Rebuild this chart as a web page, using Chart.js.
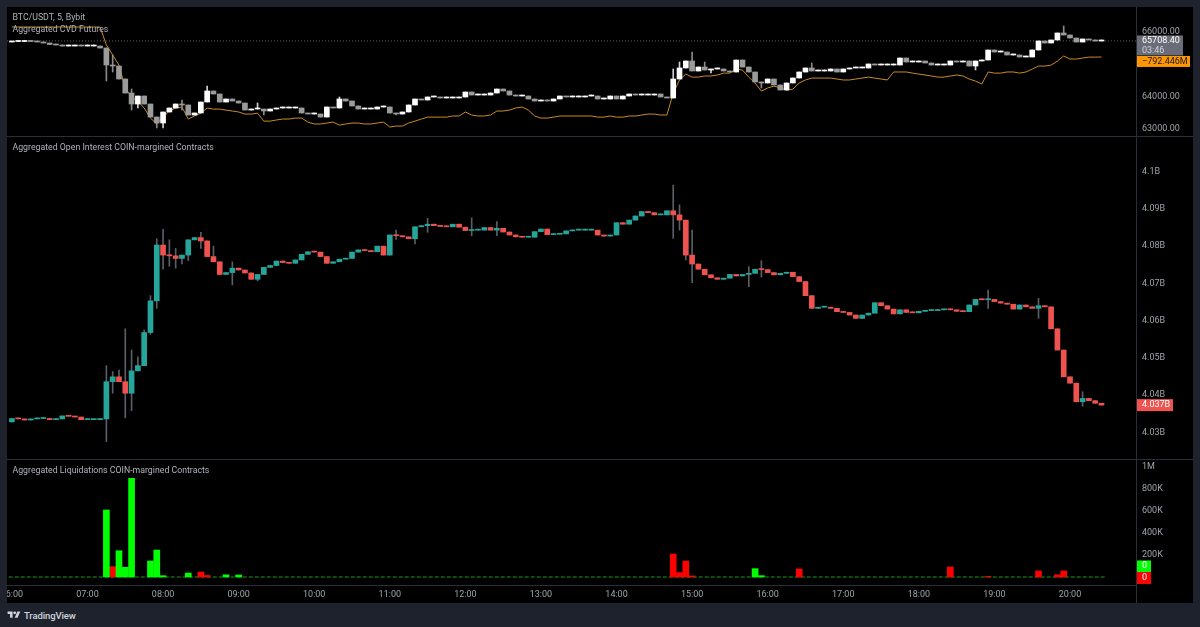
<!DOCTYPE html>
<html><head><meta charset="utf-8">
<script src="https://cdn.jsdelivr.net/npm/chart.js@4.4.1/dist/chart.umd.min.js"></script>
<style>
html,body{margin:0;padding:0;width:1200px;height:627px;overflow:hidden;background:#1e222d;font-family:Roboto,"Noto Sans",sans-serif;}
#frame{position:absolute;left:7px;top:7px;width:1186px;height:596px;background:#000;}
.pane{position:absolute;left:7px;width:1186px;}
#p1{top:7px;height:129px;}
#p2{top:137px;height:322px;}
#p3{top:460px;height:143px;}
.hsep{position:absolute;left:7px;width:1186px;height:1px;background:#2a2e39;}
.vsep{position:absolute;left:1136px;top:7px;width:1px;height:596px;background:#2a2e39;}
.title{position:absolute;left:12.5px;font-size:8.75px;line-height:11px;color:#b0b3bb;white-space:nowrap;pointer-events:none;}
#logo{position:absolute;left:7px;top:609px;height:12px;display:flex;align-items:center;gap:3px;color:#d1d4dc;font-size:9.5px;font-weight:500;letter-spacing:-0.1px;}
</style></head>
<body>
<div id="frame"></div>
<div class="pane" id="p1"><canvas id="c1"></canvas></div>
<div class="hsep" style="top:136px"></div>
<div class="pane" id="p2"><canvas id="c2"></canvas></div>
<div class="hsep" style="top:459px"></div>
<div class="pane" id="p3"><canvas id="c3"></canvas></div>
<div class="vsep"></div>
<div class="title" style="top:12px">BTC/USDT, 5, Bybit</div>
<div class="title" style="top:24px">Aggregated CVD Futures</div>
<div class="title" style="top:142px">Aggregated Open Interest COIN-margined Contracts</div>
<div class="title" style="top:464.5px">Aggregated Liquidations COIN-margined Contracts</div>
<div id="logo"><svg width="14" height="10" viewBox="0 0 36 28"><path d="M14 22H7V11H0V4h14v18zM28 22h-8l7.5-18h8L28 22z" fill="#d1d4dc"/><circle cx="20" cy="8" r="4" fill="#d1d4dc"/></svg><span>TradingView</span></div>
<script>
// ---------- DATA ----------
const START_TIME = '06:00';
const STEP_MIN = 5;
const timeTicks = ['06:00','07:00','08:00','09:00','10:00','11:00','12:00','13:00','14:00','15:00','16:00','17:00','18:00','19:00','20:00'];
const priceTicks = [63000, 64000, 66000];
const oiTicks = [4.03, 4.04, 4.05, 4.06, 4.07, 4.08, 4.09, 4.1];
const liqTicks = [200000, 400000, 600000, 800000, 1000000];
const countdownText = '03:46';

const priceFirstOpen = 65676;
const priceClose = [
65691,65691,65707,65691,65676,65645,65599,65583,65552,65552,
65568,65552,65552,65552,65491,64966,64935,64534,64102,63762,
64009,63762,63361,63176,63516,63639,63762,63732,63423,63485,
63824,64164,64071,63824,63917,63855,63793,63577,63608,63608,
63547,63608,63639,63639,63639,63639,63485,63454,63454,63361,
63670,63639,63917,63855,63701,63608,63608,63608,63670,63670,
63485,63454,63516,63732,63917,63886,63979,63979,63948,63948,
63948,63979,64133,64040,64040,64040,64102,64225,64164,64040,
64009,64009,63917,63855,63886,63855,63917,64009,63979,63979,
63979,64009,64009,63917,63917,64009,63917,64009,64071,64040,
64040,64040,64071,63979,63948,64534,64874,65090,64781,64904,
64812,64843,64843,64781,64750,65120,64904,64750,64442,64411,
64534,64349,64195,64411,64565,64750,64874,64781,64781,64781,
64843,64750,64843,64874,64874,64874,64997,64966,64966,64966,
64966,65182,65059,65059,65090,65028,64966,64966,64966,65090,
65059,65090,64935,65090,65120,65429,65367,65367,65275,65275,
65213,65213,65429,65707,65645,65738,65954,65892,65799,65676,
65769,65738,65707,65708.4];
const priceWickHigh = {16:65275,19:64225,27:63886,31:64318,39:63793,52:63979,105:64843,106:65059,108:65367,110:65059,127:65028,167:66170};
const priceWickLow  = {15:64472,16:64750,19:63577,20:63639,23:63022,24:63022,27:63577,40:63423,61:63423,111:64719,119:64256,153:64812};

const cvdMillions = [
-635,-635,-635,-635,-635,-635,-635,-635,-635,-635,
-635,-635,-635,-635,-635,-730,-782,-835,-955,-1003,
-1024,-1060,-1113,-1144,-1108,-1076,-1060,-1055,-1118,-1102,
-1087,-1060,-1066,-1066,-1071,-1076,-1081,-1092,-1092,-1087,
-1129,-1129,-1123,-1118,-1118,-1113,-1113,-1134,-1144,-1144,
-1139,-1134,-1150,-1144,-1139,-1139,-1144,-1144,-1139,-1134,
-1160,-1155,-1155,-1139,-1129,-1118,-1108,-1108,-1108,-1108,
-1102,-1102,-1081,-1097,-1102,-1102,-1097,-1076,-1076,-1071,
-1060,-1055,-1071,-1102,-1113,-1113,-1108,-1102,-1102,-1102,
-1102,-1102,-1102,-1108,-1108,-1102,-1108,-1108,-1102,-1102,
-1097,-1092,-1092,-1097,-1097,-982,-913,-882,-898,-898,
-892,-892,-887,-877,-877,-856,-861,-898,-929,-971,
-955,-945,-955,-966,-961,-929,-913,-903,-903,-903,
-903,-908,-913,-913,-908,-903,-898,-903,-908,-913,
-871,-871,-871,-877,-882,-887,-892,-898,-898,-892,
-887,-892,-908,-919,-934,-871,-877,-877,-871,-871,
-877,-871,-856,-840,-840,-835,-814,-787,-803,-803,
-798,-793,-793,-792.446];

const oiFirstOpen = 4.0328;
const oiClose = [
4.0337,4.0336,4.0333,4.0336,4.0337,4.0337,4.0334,4.0336,4.0344,4.0343,
4.0341,4.0334,4.0334,4.0334,4.0336,4.0436,4.0449,4.0436,4.0405,4.0465,
4.0479,4.0568,4.0653,4.0803,4.0776,4.0774,4.0767,4.0776,4.0817,4.0823,
4.0814,4.0772,4.0758,4.0724,4.0729,4.0741,4.0736,4.0728,4.0711,4.0724,
4.0743,4.0748,4.0760,4.0756,4.0754,4.0763,4.0778,4.0785,4.0784,4.0772,
4.0754,4.0758,4.0765,4.0767,4.0784,4.0790,4.0788,4.0785,4.0800,4.0776,
4.0830,4.0828,4.0825,4.0820,4.0852,4.0855,4.0859,4.0855,4.0853,4.0852,
4.0859,4.0851,4.0842,4.0843,4.0843,4.0850,4.0843,4.0848,4.0838,4.0830,
4.0825,4.0824,4.0824,4.0839,4.0846,4.0831,4.0832,4.0833,4.0841,4.0843,
4.0843,4.0843,4.0843,4.0830,4.0827,4.0830,4.0863,4.0859,4.0870,4.0881,
4.0893,4.0890,4.0884,4.0884,4.0895,4.0884,4.0870,4.0776,4.0752,4.0738,
4.0723,4.0715,4.0711,4.0714,4.0724,4.0720,4.0724,4.0727,4.0738,4.0737,
4.0729,4.0723,4.0727,4.0730,4.0718,4.0705,4.0667,4.0633,4.0636,4.0636,
4.0633,4.0624,4.0622,4.0615,4.0606,4.0615,4.0620,4.0648,4.0640,4.0631,
4.0618,4.0629,4.0622,4.0621,4.0625,4.0627,4.0627,4.0629,4.0631,4.0629,
4.0625,4.0624,4.0642,4.0657,4.0656,4.0657,4.0651,4.0647,4.0644,4.0631,
4.0642,4.0637,4.0633,4.0640,4.0637,4.0578,4.0521,4.0449,4.0432,4.0382,
4.0391,4.0385,4.0378,4.0373];
const oiWickHigh = {15:4.0479,16:4.0463,17:4.0467,18:4.0578,19:4.0521,20:4.0503,21:4.0575,22:4.0667,23:4.0820,24:4.0845,25:4.0817,26:4.0794,30:4.0837,32:4.0800,35:4.0758,61:4.0843,66:4.0875,73:4.0876,77:4.0866,105:4.0964,106:4.0911,108:4.0843,117:4.0745,119:4.0761,155:4.0682,163:4.0660,170:4.0409};
const oiWickLow  = {15:4.0275,16:4.0405,18:4.0339,19:4.0358,22:4.0563,23:4.0633,24:4.0738,25:4.0746,26:4.0741,27:4.0752,28:4.0761,30:4.0794,35:4.0696,39:4.0707,61:4.0818,64:4.0806,66:4.0837,73:4.0828,77:4.0828,105:4.0821,106:4.0843,107:4.0763,108:4.0702,117:4.0691,119:4.0717,155:4.0633,163:4.0606,170:4.0370};

const liqLongTimes  = ['07:15','07:25','07:30','07:35','07:50','07:55','08:00','08:20','08:50','09:00','15:50','15:55'];
const liqLongValues = [609000,239000,88000,897000,145000,245000,12000,36000,20000,18000,76000,12000];
const liqShortTimes  = ['07:20','08:30','08:35','14:45','14:50','14:55','15:00','16:25','18:25','18:55','19:35','19:50','19:55'];
const liqShortValues = [94000,45000,14000,209000,40000,145000,10000,73000,91000,5000,55000,20000,55000];

// ---------- HELPERS ----------
const FONT = 'Roboto, "Noto Sans", sans-serif';
Chart.defaults.font.family = FONT;
Chart.defaults.font.size = 9;
const TICK_COLOR = '#a0a3ab';
const AXIS_W = 57;
const X_MIN = 356.1, X_MAX = 1252.4;
function toMin(t){ const p = t.split(':').map(Number); return p[0]*60 + p[1]; }
const t0 = toMin(START_TIME);
const times = priceClose.map((_, i) => t0 + STEP_MIN * i);

function buildCandles(close, firstOpen, hiMap, loMap){
  return close.map((c, i) => {
    const o = i === 0 ? firstOpen : close[i-1];
    const h = Math.max(o, c, hiMap[i] !== undefined ? hiMap[i] : -Infinity);
    const l = Math.min(o, c, loMap[i] !== undefined ? loMap[i] : Infinity);
    return {x: times[i], o, c, h, l};
  });
}
const priceCandles = buildCandles(priceClose, priceFirstOpen, priceWickHigh, priceWickLow);
const oiCandles = buildCandles(oiClose, oiFirstOpen, oiWickHigh, oiWickLow);

function candleSets(candles, upCol, downCol, wickUp, wickDown, bodyW){
  const body = candles.map(k => k.c >= k.o ? upCol : downCol);
  const wick = candles.map(k => k.c >= k.o ? wickUp : wickDown);
  return [
    {type:'bar', data: candles.map(k => ({x:k.x, y:[k.l, k.h]})), backgroundColor: wick, barThickness: 1, minBarLength: 1, grouped:false, order: 2, yAxisID:'y'},
    {type:'bar', data: candles.map(k => ({x:k.x, y:[k.o, k.c]})), backgroundColor: body, barThickness: bodyW, minBarLength: 1, grouped:false, order: 1, yAxisID:'y'}
  ];
}

function yAxis(min, max, ticksArr, fmt){
  return {
    position:'right', min, max,
    grid:{display:false, drawTicks:false}, border:{display:false},
    afterBuildTicks(s){ s.ticks = ticksArr.map(v => ({value:v})); },
    afterFit(s){ s.width = AXIS_W; s.paddingTop = 0; s.paddingBottom = 0; },
    ticks:{color:TICK_COLOR, padding:6, crossAlign:'near', font:{size:9}, callback: v => fmt(v)}
  };
}
const hiddenX = {type:'linear', display:false, min:X_MIN, max:X_MAX, offset:false};
const baseOpts = {responsive:true, maintainAspectRatio:false, animation:false, events:[],
  layout:{padding:0}, plugins:{legend:{display:false}, tooltip:{enabled:false}}};

function box(ctx, x, y, w, h, bg, lines, colors){
  ctx.fillStyle = bg; ctx.fillRect(x, y, w, h);
  ctx.textAlign = 'left'; ctx.textBaseline = 'middle';
  ctx.font = '9px ' + FONT;
  lines.forEach((t, j) => { ctx.fillStyle = colors[j]; ctx.fillText(t, x + 6, y + 5.5 + j*9.5); });
}

// ---------- PANE 1: price + CVD ----------
const lastPrice = priceClose[priceClose.length-1];
const lastCvd = cvdMillions[cvdMillions.length-1];
new Chart(document.getElementById('c1'), {
  type:'bar',
  data:{datasets:[
    {type:'line', data: cvdMillions.map((v,i)=>({x:times[i], y:v})), yAxisID:'cvd', borderColor:'#c98a28', borderWidth:1, pointRadius:0, tension:0, order:3},
    {type:'line', data:[{x:X_MIN, y:lastPrice},{x:X_MAX, y:lastPrice}], yAxisID:'y', borderColor:'#5d606b', borderWidth:1, borderDash:[1,2], pointRadius:0, order:4},
    ...candleSets(priceCandles, '#ffffff', '#9b9b9b', '#d0d0d0', '#8a8a8a', 5)
  ]},
  options:Object.assign({}, baseOpts, {scales:{
    x: hiddenX,
    y: yAxis(62775, 66756, priceTicks, v => v.toFixed(2)),
    cvd: {display:false, min:-1207, max:-530}
  }}),
  plugins:[{id:'lbl1', afterDraw(chart){
    const ctx = chart.ctx, ca = chart.chartArea;
    const py = chart.scales.y.getPixelForValue(lastPrice);
    const gTop = py - 5.5;
    box(ctx, ca.right, gTop, 47, 20, '#6a6d78', [lastPrice.toFixed(2), countdownText], ['#ffffff', '#d1d4dc']);
    const cy = chart.scales.cvd.getPixelForValue(lastCvd);
    const oTop = Math.max(cy - 5.5, gTop + 20.5);
    box(ctx, ca.right, oTop, 54, 11, '#ff9800', ['\u2212' + Math.abs(lastCvd).toFixed(3) + 'M'], ['#131722']);
  }}]
});

// ---------- PANE 2: open interest ----------
const lastOi = oiClose[oiClose.length-1];
new Chart(document.getElementById('c2'), {
  type:'bar',
  data:{datasets: candleSets(oiCandles, '#26a69a', '#ef5350', '#5b5e68', '#5b5e68', 5)},
  options:Object.assign({}, baseOpts, {scales:{
    x: hiddenX,
    y: yAxis(4.02283, 4.10932, oiTicks, v => (Math.round(v*100)/100) + 'B')
  }}),
  plugins:[{id:'lbl2', afterDraw(chart){
    const ctx = chart.ctx, ca = chart.chartArea;
    const py = chart.scales.y.getPixelForValue(lastOi);
    box(ctx, ca.right, py - 6, 37, 12, '#ef5350', [lastOi.toFixed(3) + 'B'], ['#ffffff']);
  }}]
});

// ---------- PANE 3: liquidations ----------
const xAxisBottom = {
  type:'linear', min:X_MIN, max:X_MAX, offset:false,
  grid:{display:false, drawTicks:false}, border:{display:true, color:'#2a2e39', width:1},
  afterBuildTicks(s){ s.ticks = timeTicks.map(t => ({value: toMin(t)})); },
  afterFit(s){ s.height = 18; s.paddingLeft = 0; s.paddingRight = 0; },
  ticks:{color:TICK_COLOR, padding:4, autoSkip:false, maxRotation:0, minRotation:0, font:{size:9}, callback:(v,i) => timeTicks[i]}
};
new Chart(document.getElementById('c3'), {
  type:'bar',
  data:{datasets:[
    {type:'line', data:[{x:times[0]-2.5, y:0},{x:times[times.length-1]+2.5, y:0}], borderColor:'#1f9a1f', borderWidth:1, borderDash:[4,2], pointRadius:0, order:3},
    {type:'bar', data: liqLongTimes.map((t,i)=>({x:toMin(t), y:liqLongValues[i]})), backgroundColor:'#00ff00', barThickness:6, grouped:false, order:1},
    {type:'bar', data: liqShortTimes.map((t,i)=>({x:toMin(t), y:liqShortValues[i]})), backgroundColor:'#ff0000', barThickness:6, grouped:false, order:1}
  ]},
  options:Object.assign({}, baseOpts, {scales:{
    x: xAxisBottom,
    y: yAxis(-72727, 1063636, liqTicks, v => v >= 1e6 ? (v/1e6) + 'M' : (v/1e3) + 'K')
  }}),
  plugins:[{id:'lbl3', afterDraw(chart){
    const ctx = chart.ctx, ca = chart.chartArea;
    const zy = chart.scales.y.getPixelForValue(0);
    box(ctx, ca.right, zy - 5, 15, 12, '#ff0000', ['0'], ['#ffffff']);
    box(ctx, ca.right, zy - 16.5, 15, 11.5, '#00ff00', ['0'], ['#ffffff']);
  }}]
});
</script>
</body></html>
